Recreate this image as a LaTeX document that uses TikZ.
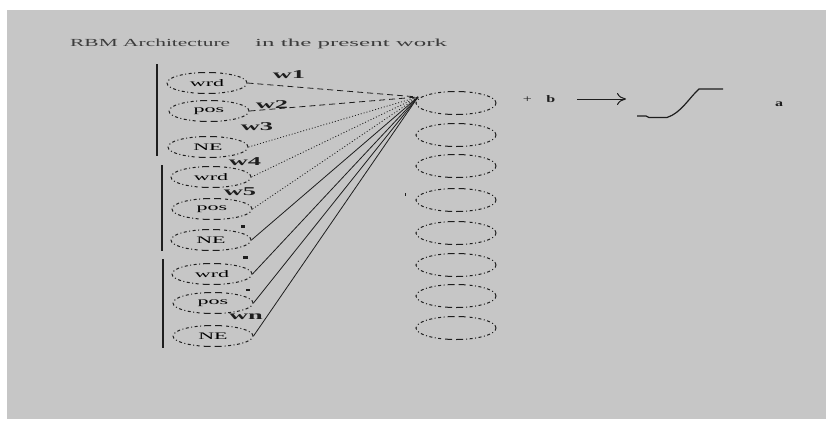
\documentclass[tikz,border=0pt]{standalone}
\usepackage{fontspec}
\usepackage{graphicx}
\setmainfont{Liberation Serif}
\usetikzlibrary{shapes.geometric,arrows.meta}
\definecolor{bggray}{HTML}{C6C6C6}
\definecolor{ink}{HTML}{1E1E1E}
\definecolor{titleink}{HTML}{3C3C3C}
\newcommand{\widetext}[2]{\scalebox{#1}[1]{#2}}
\newcommand{\unitlbl}[1]{\fontsize{10}{10}\selectfont\widetext{2.2}{#1}}
\newcommand{\wlbl}[1]{\fontsize{12}{12}\selectfont\bfseries\widetext{2.2}{#1}}

\begin{document}
\begin{tikzpicture}[x=1pt,y=-1pt,
  ovaldash/.style={dash pattern=on 3pt off 2.5pt on 1pt off 2.5pt on 3pt off 2.5pt on 1pt off 2.5pt
      on 3pt off 2.5pt on 1pt off 2.5pt on 3pt off 4pt
      on 7pt off 4pt on 7pt off 3pt
      on 1pt off 2.5pt on 3pt off 2.5pt on 1pt off 2.5pt on 3pt off 2.5pt
      on 1pt off 2.5pt on 3pt off 2.5pt on 1pt off 2.8pt},
  inunit/.style={ellipse, draw=ink, line width=1pt, ovaldash, inner sep=0pt,
      minimum width=80pt, minimum height=21pt},
  hidunit/.style={ellipse, draw=ink, line width=1pt, ovaldash, inner sep=0pt,
      minimum width=80pt, minimum height=23pt},
  wlabel/.style={inner sep=0pt, text=ink},
  wline/.style={draw=ink, line width=0.8pt},
  wdash/.style={wline, dash pattern=on 6pt off 4pt},
  wdot/.style={wline, dash pattern=on 1pt off 2pt},
  groupbar/.style={draw=ink, line width=1.4pt},
  titletext/.style={anchor=base west, inner sep=0pt, text=titleink},
  ]
  % canvas
  \useasboundingbox (0,0) rectangle (826,421);
  \fill[white] (0,0) rectangle (826,421);
  \fill[bggray] (7,10) rectangle (826,419);

  % title, in two runs of fixed extent
  \node[titletext] (title1) at (70,46)
    {\resizebox{160pt}{7.5pt}{RBM Architecture}};
  \node[titletext] (title2) at (255,46)
    {\resizebox{192pt}{7.5pt}{in the present work}};

  % visible units, three groups of three
  \node[inunit] (i1) at (207,83)  {\unitlbl{wrd}};
  \node[inunit] (i2) at (209,111) {\unitlbl{pos}};
  \node[inunit] (i3) at (208,147) {\unitlbl{NE}};
  \node[inunit] (i4) at (211,177) {\unitlbl{wrd}};
  \node[inunit] (i5) at (212,209) {\unitlbl{pos}};
  \node[inunit] (i6) at (211,240) {\unitlbl{NE}};
  \node[inunit] (i7) at (212,274) {\unitlbl{wrd}};
  \node[inunit] (i8) at (213,303) {\unitlbl{pos}};
  \node[inunit] (i9) at (213,336) {\unitlbl{NE}};

  % group bars
  \coordinate (b1t) at (157,64);  \coordinate (b1b) at (157,156);
  \coordinate (b2t) at (162,165); \coordinate (b2b) at (162,251);
  \coordinate (b3t) at (163,259); \coordinate (b3b) at (163,348);
  \draw[groupbar] (b1t) -- (b1b);
  \draw[groupbar] (b2t) -- (b2b);
  \draw[groupbar] (b3t) -- (b3b);

  % hidden units
  \foreach \k/\yy in {1/103,2/135,3/166,4/200,5/233,6/265,7/296,8/328}{
    \node[hidunit] (h\k) at (456,\yy) {};
  }

  % weighted connections into the first hidden unit
  \coordinate (conv) at (418,97);
  \draw[wdash] (i1.east) -- (conv);
  \draw[wdash] (i2.east) -- (conv);
  \draw[wdot]  (i3.east) -- (conv);
  \draw[wdot]  (i4.east) -- (conv);
  \draw[wdot]  (i5.east) -- (conv);
  \draw[wline] (i6.east) -- (conv);
  \draw[wline] (i7.east) -- (conv);
  \draw[wline] (i8.east) -- (conv);
  \draw[wline] (i9.east) -- (conv);

  % weight labels
  \node[wlabel] (w1) at (289,75)  {\wlbl{w1}};
  \node[wlabel] (w2) at (272,105) {\wlbl{w2}};
  \node[wlabel] (w3) at (257,127) {\wlbl{w3}};
  \node[wlabel] (w4) at (245,162) {\wlbl{w4}};
  \node[wlabel] (w5) at (240,192) {\wlbl{w5}};
  \node[wlabel] (wn) at (246,317) {\wlbl{wn}};
  \fill[ink] (241,224.5) rectangle (245,227.5);
  \fill[ink] (243,255.5) rectangle (248,258.5);
  \fill[ink] (246,289) rectangle (250,291);
  \fill[ink] (404.5,193) rectangle (405.5,196);

  % bias, activation and output
  \node[inner sep=0pt, text=ink] (bias) at (539,99)
    {\fontsize{10}{10}\selectfont\widetext{1.6}{+\hspace{0.9em}\textbf{b}}};
  \coordinate (arrS) at (577,99);
  \coordinate (arrE) at (626,99);
  \draw[ink, line width=1pt, -{Computer Modern Rightarrow[length=9pt,width=12pt]}] (arrS) -- (arrE);
  \coordinate (sigL) at (637,116);
  \coordinate (sigR) at (723,89);
  \draw[ink, line width=1.2pt] (sigL) -- (646,116) -- (649,117.5) -- (667,117.5)
      .. controls (681,113) and (689,98) .. (699,89) -- (sigR);
  \node[inner sep=0pt, text=ink] (out) at (779,104)
    {\fontsize{10}{10}\selectfont\bfseries\widetext{1.6}{a}};
\end{tikzpicture}
\end{document}
